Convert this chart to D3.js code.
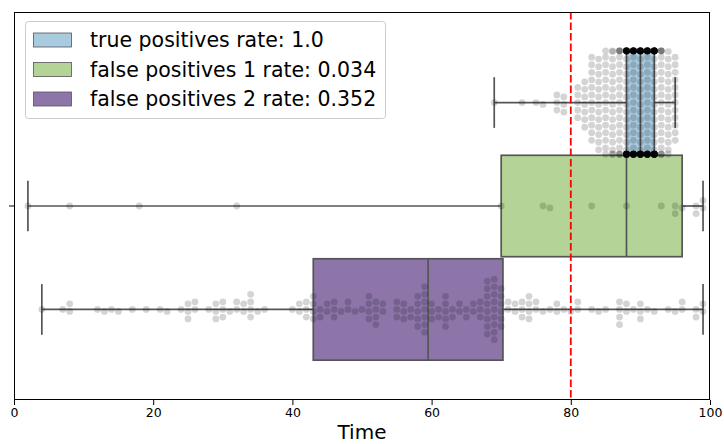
<!DOCTYPE html>
<html><head><meta charset="utf-8">
<script src="https://cdn.jsdelivr.net/npm/d3@7"></script>
<style>body{margin:0;background:#fff;} svg{display:block;font-family:"DejaVu Sans",sans-serif;}</style>
</head><body><svg id="chart" width="724" height="444"></svg>
<script>
// ---------------- data ----------------
const groups = ["true positives", "false positives 1", "false positives 2"];
const legendLabels = ["true positives rate: 1.0", "false positives 1 rate: 0.034", "false positives 2 rate: 0.352"];
const groupColors = ["#a9cbe0", "#b3d496", "#8d75aa"];

// observed times (value) and how many points share that value
const tpTimes  = [69,73,75,76,78,79,81,82,83,84,85,86,87,88,89,90,91,92,93,94,95];
const tpCounts = [ 1, 1, 1, 1, 3, 3, 5, 7,12,13,15,17,20,50,50,50,50,54,20,15,12];

const fp1Times  = [2,8,18,32,70,76,77,83,88,93,95,96,98,99];
const fp1Counts = [1,1, 1, 1, 1, 1, 1, 1, 1, 1, 2, 1, 2, 2];

const fp2Times  = [4,7,8,12,13,14,15,17,19,21,22,24,25,26,28,29,30,31,32,33,34,35,36,
                   40,41,42,43,44,45,46,47,48,49,
                   50,51,52,53,55,56,57,58,59,
                   60,61,62,63,64,65,66,67,68,69,70,
                   71,72,73,74,75,76,77,78,79,80,81,83,84,85,87,88,89,90,91,92,94,95,96,98,99];
const fp2Counts = [1,1,2,1,1,1,1,1,1,1,1,1,3,2,1,3,3,1,2,2,4,1,1,
                   1,2,3,4,2,2,3,1,2,1,
                   1,4,4,2,3,3,2,5,7,
                   3,2,5,2,2,2,2,3,8,9,6,
                   2,2,3,4,2,1,1,2,1,1,2,1,1,1,4,2,1,3,1,1,1,1,2,2,2];

const xTicks = [0, 20, 40, 60, 80, 100];
const threshold = 80;
const xLabel = "Time";

// ---------------- layout ----------------
const mLeft = 14, mRight = 710, mTop = 12, mBottom = 400;

const svg = d3.select("#chart");
const x = d3.scaleLinear().domain([0, 100]).range([mLeft, mRight]);
const yCat = d3.scaleBand().domain([""]).range([mTop, mBottom]);
const catCenter = yCat("") + yCat.bandwidth() / 2;
const hue = d3.scaleBand().domain(groups)
  .range([catCenter - 0.4 * yCat.bandwidth(), catCenter + 0.4 * yCat.bandwidth()]);
const boxH = hue.bandwidth() * 0.98;
const swarmHalf = hue.bandwidth() / 2;

function expand(times, counts) {
  const out = [];
  times.forEach((t, i) => { for (let k = 0; k < counts[i]; k++) out.push(t); });
  return out;
}
const datasets = [expand(tpTimes, tpCounts), expand(fp1Times, fp1Counts), expand(fp2Times, fp2Counts)];

const lineCol = "#555";
const gBoxes = svg.append("g");
datasets.forEach((vals, gi) => {
  const s = vals.slice().sort(d3.ascending);
  const q1 = d3.quantile(s, 0.25), med = d3.quantile(s, 0.5), q3 = d3.quantile(s, 0.75);
  const lo = s[0], hi = s[s.length - 1];
  const cy = hue(groups[gi]) + hue.bandwidth() / 2;
  const g = gBoxes.append("g").attr("stroke", lineCol).attr("stroke-width", 1.7).attr("fill", "none");
  g.append("line").attr("x1", x(lo)).attr("x2", x(q1)).attr("y1", cy).attr("y2", cy);
  g.append("line").attr("x1", x(q3)).attr("x2", x(hi)).attr("y1", cy).attr("y2", cy);
  g.append("line").attr("x1", x(lo)).attr("x2", x(lo)).attr("y1", cy - boxH / 4).attr("y2", cy + boxH / 4);
  g.append("line").attr("x1", x(hi)).attr("x2", x(hi)).attr("y1", cy - boxH / 4).attr("y2", cy + boxH / 4);
  g.append("rect").attr("x", x(q1)).attr("y", cy - boxH / 2).attr("width", x(q3) - x(q1)).attr("height", boxH)
    .attr("fill", groupColors[gi]);
  g.append("line").attr("x1", x(med)).attr("x2", x(med)).attr("y1", cy - boxH / 2).attr("y2", cy + boxH / 2);
});

// ---------------- beeswarm (seaborn-like) ----------------
const R = 3.6;
function beeswarm(vals, center, r, halfWidth) {
  const pts = vals.map(v => ({ v, px: x(v) })).sort((a, b) => a.px - b.px);
  const swarm = [];
  const d2 = 4 * r * r;
  for (const p of pts) {
    const neigh = [];
    for (let j = swarm.length - 1; j >= 0; j--) {
      if (p.px - swarm[j].px < 2 * r) neigh.push(swarm[j]); else break;
    }
    neigh.reverse();
    let cands = [center];
    let leftFirst = true;
    for (const q of neigh) {
      const dv = p.px - q.px;
      const d = Math.sqrt(Math.max(d2 - dv * dv, 0)) * 1.05;
      const cl = q.c + d, cr = q.c - d;
      if (leftFirst) cands.push(cl, cr); else cands.push(cr, cl);
      leftFirst = !leftFirst;
    }
    cands = cands.map((c, i) => ({ c, i }))
      .sort((a, b) => (Math.abs(a.c - center) - Math.abs(b.c - center)) || (a.i - b.i))
      .map(o => o.c);
    let chosen = cands[cands.length - 1];
    for (const c of cands) {
      let ok = true;
      for (const q of neigh) {
        const dx = q.px - p.px, dy = q.c - c;
        if (dx * dx + dy * dy < d2 - 1e-9) { ok = false; break; }
      }
      if (ok) { chosen = c; break; }
    }
    swarm.push({ v: p.v, px: p.px, c: chosen });
  }
  swarm.forEach(s => { s.c = Math.max(center - halfWidth, Math.min(center + halfWidth, s.c)); });
  return swarm;
}

const gPts = svg.append("g");
datasets.forEach((vals, gi) => {
  const cy = hue(groups[gi]) + hue.bandwidth() / 2;
  const sw = beeswarm(vals, cy, R, swarmHalf);
  gPts.append("g").selectAll("circle").data(sw).join("circle")
    .attr("cx", d => x(d.v)).attr("cy", d => d.c).attr("r", 3.4)
    .attr("fill", "#000").attr("fill-opacity", 0.17);
});

// threshold line
svg.append("line").attr("x1", x(threshold)).attr("x2", x(threshold)).attr("y1", mTop).attr("y2", mBottom)
  .attr("stroke", "#ff0000").attr("stroke-width", 1.8).attr("stroke-dasharray", "7.5,3");

// axes
const xAxis = svg.append("g").attr("transform", `translate(0,${mBottom})`)
  .call(d3.axisBottom(x).tickValues(xTicks).tickSize(5).tickPadding(3).tickSizeOuter(0));
xAxis.select(".domain").remove();
xAxis.selectAll("text").attr("font-size", "12.5px").attr("font-family", "DejaVu Sans").attr("fill", "#000");
xAxis.selectAll("line").attr("stroke", "#000");

svg.append("line").attr("x1", mLeft - 5).attr("x2", mLeft).attr("y1", catCenter).attr("y2", catCenter).attr("stroke", "#000");

// spines
svg.append("rect").attr("x", mLeft + 0.5).attr("y", mTop + 0.5).attr("width", mRight - mLeft - 1).attr("height", mBottom - mTop - 1)
  .attr("fill", "none").attr("stroke", "#000").attr("stroke-width", 1);

svg.append("text").attr("x", (mLeft + mRight) / 2).attr("y", 439).attr("text-anchor", "middle")
  .attr("font-size", "20px").text(xLabel);

// legend
const lg = svg.append("g");
lg.append("rect").attr("x", 25.5).attr("y", 21.5).attr("width", 360).attr("height", 97).attr("rx", 3)
  .attr("fill", "#fff").attr("fill-opacity", 0.8).attr("stroke", "#ccc");
legendLabels.forEach((t, i) => {
  const cy = 40 + i * 29.5;
  lg.append("rect").attr("x", 33.5).attr("y", cy - 7).attr("width", 38).attr("height", 14)
    .attr("fill", groupColors[i]).attr("stroke", lineCol).attr("stroke-width", 0.8);
  lg.append("text").attr("x", 90).attr("y", cy + 7).attr("font-size", "20.5px").attr("fill", "#000").text(t);
});
</script></body></html>
